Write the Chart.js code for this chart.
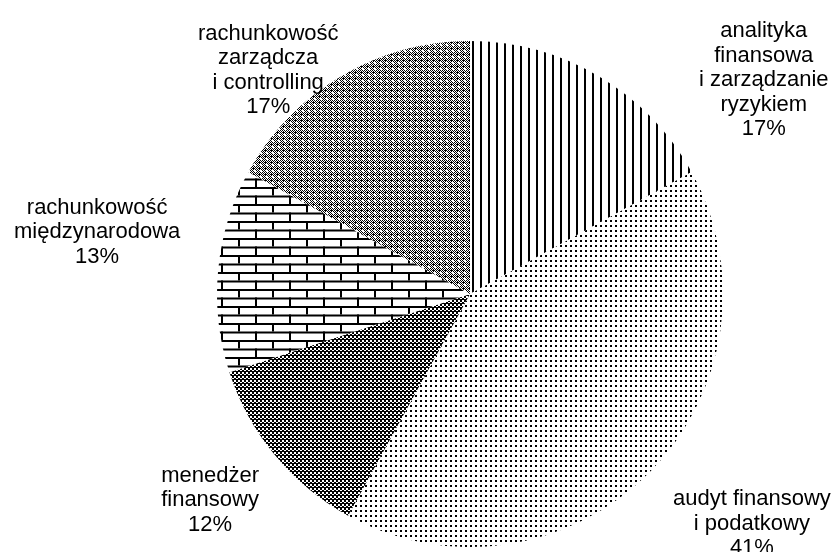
<!DOCTYPE html>
<html>
<head>
<meta charset="utf-8">
<script src="https://cdn.jsdelivr.net/npm/chart.js@4"></script>
<style>
  html, body { margin: 0; padding: 0; background: #fff; }
  #chart { display: block; }
</style>
</head>
<body>
<canvas id="chart" width="837" height="552"></canvas>
<script>
// Slice labels (each entry = lines of the label) and shares in percent
var categories = [
    ['analityka', 'finansowa', 'i zarządzanie', 'ryzykiem'],
    ['audyt finansowy', 'i podatkowy'],
    ['menedżer', 'finansowy'],
    ['rachunkowość', 'międzynarodowa'],
    ['rachunkowość', 'zarządcza', 'i controlling']
];
var shares = [17, 41, 12, 13, 17];

// Where each label box sits, relative to the arc's mid point on the rim
var labelShift = [[165, 4], [103, 51], [-65, 45], [-121, -38], [-73, -6]];

// Build a canvas pattern from a small drawing function
function makePattern(w, h, draw) {
    var c = document.createElement('canvas');
    c.width = w;
    c.height = h;
    var g = c.getContext('2d');
    g.fillStyle = '#fff';
    g.fillRect(0, 0, w, h);
    g.fillStyle = '#000';
    draw(g);
    return document.getElementById('chart').getContext('2d').createPattern(c, 'repeat');
}

// vertical stripes
var stripes = makePattern(8, 8, function (g) {
    g.fillRect(0, 0, 2, 8);
});
// fine dots
var dots = makePattern(5, 5, function (g) {
    g.fillRect(0, 0, 2, 2);
});
// dark checker with white specks
var darkCheck = makePattern(4, 4, function (g) {
    g.fillRect(0, 0, 2, 2);
    g.fillRect(2, 2, 2, 2);
    g.fillRect(0, 3, 4, 1);
});
// horizontal bricks
var bricks = makePattern(34, 17, function (g) {
    g.fillRect(0, 0, 34, 2);
    g.fillRect(0, 8.5, 34, 2);
    g.fillRect(0, 0, 2, 8.5);
    g.fillRect(17, 8.5, 2, 8.5);
});
// small diamonds: 1px checker with an open hole
var diamonds = makePattern(6, 6, function (g) {
    for (var y = 0; y < 6; y++) {
        for (var x = 0; x < 6; x++) {
            var hole = (x >= 2 && x <= 3 && y >= 2 && y <= 3);
            if ((x + y) % 2 === 0 && !hole) g.fillRect(x, y, 1, 1);
        }
    }
    g.fillRect(0, 0, 2, 1);
});

var fills = [stripes, dots, darkCheck, bricks, diamonds];

// Draws the multi-line labels outside the slices
var outsideLabels = {
    id: 'outsideLabels',
    afterDatasetsDraw: function (chart) {
        var ctx = chart.ctx;
        var meta = chart.getDatasetMeta(0);
        var lineH = 24.5;
        ctx.save();
        ctx.font = '22px "Liberation Sans", Arial, sans-serif';
        ctx.fillStyle = '#000';
        ctx.textAlign = 'center';
        ctx.textBaseline = 'middle';
        meta.data.forEach(function (arc, i) {
            var p = arc.getProps(['x', 'y', 'startAngle', 'endAngle', 'outerRadius'], true);
            var mid = (p.startAngle + p.endAngle) / 2;
            var cx = p.x + Math.cos(mid) * p.outerRadius + labelShift[i][0];
            var cy = p.y + Math.sin(mid) * p.outerRadius + labelShift[i][1];
            var lines = categories[i].concat([shares[i] + '%']);
            var top = cy - (lines.length - 1) * lineH / 2;
            lines.forEach(function (txt, k) {
                ctx.fillText(txt, cx, top + k * lineH);
            });
        });
        ctx.restore();
    }
};

new Chart(document.getElementById('chart'), {
    type: 'pie',
    data: {
        labels: categories,
        datasets: [{
            data: shares,
            backgroundColor: fills,
            borderWidth: 0
        }]
    },
    options: {
        responsive: false,
        animation: false,
        layout: {
            padding: { left: 217, right: 114, top: 41, bottom: 5 }
        },
        plugins: {
            legend: { display: false },
            tooltip: { enabled: false }
        }
    },
    plugins: [outsideLabels]
});
</script>
</body>
</html>
